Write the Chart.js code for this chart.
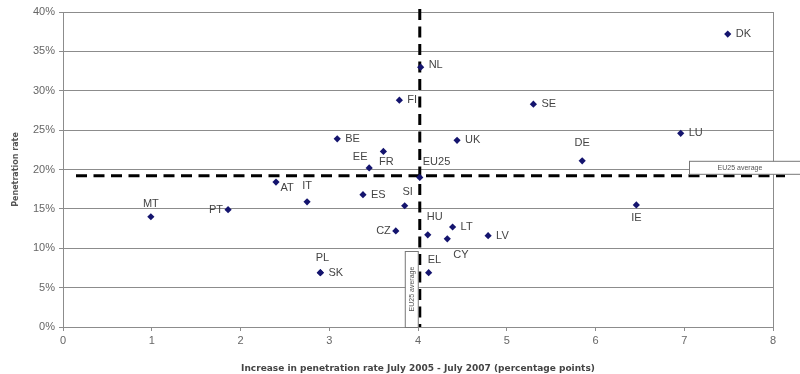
<!DOCTYPE html>
<html>
<head>
<meta charset="utf-8">
<script src="https://cdn.jsdelivr.net/npm/chart.js@4/dist/chart.umd.min.js"></script>
<style>
html,body{margin:0;padding:0;background:#fff;}
#wrap{width:800px;height:374px;position:relative;}
</style>
</head>
<body>
<div id="wrap"><canvas id="c" width="800" height="374"></canvas></div>
<script>
// ---- data ----
const countries = ["DK","NL","FI","SE","BE","UK","LU","DE","FR","EE","EU25","AT","IT","ES","SI","MT","PT","IE","HU","CZ","LT","CY","LV","PL","SK","EL"];
const increasePts = [7.49,4.03,3.79,5.30,3.09,4.44,6.96,5.85,3.61,3.45,4.02,2.40,2.75,3.38,3.85,0.99,1.86,6.46,4.11,3.75,4.39,4.33,4.79,2.90,2.90,4.12];
const penetrationPct = [37.2,33.0,28.8,28.3,23.9,23.7,24.6,21.1,22.3,20.2,19.0,18.4,15.9,16.8,15.4,14.0,14.9,15.5,11.7,12.2,12.7,11.2,11.6,6.9,6.9,6.9];
const avgIncrease = 4.02;
const avgPenetration = 19.2;
const xTicks = [0,1,2,3,4,5,6,7,8];
const yTicks = [0,5,10,15,20,25,30,35,40];
const avgLabel = "EU25 average";
const xTitle = "Increase in penetration rate July 2005 - July 2007 (percentage points)";
const yTitle = "Penetration rate";

// ---- label placement (style) ----
const labelPlace = {
  DK:[8,0,'left'], NL:[8,-2,'left'], FI:[8,0,'left'], SE:[8,0,'left'], BE:[8,0,'left'],
  UK:[8,0,'left'], LU:[8,0,'left'], DE:[0,-18,'center'], FR:[3,11,'center'], EE:[-9,-11,'center'],
  EU25:[3,-15,'left'], AT:[11,6,'center'], IT:[0,-16,'center'], ES:[8,0,'left'], SI:[3,-14,'center'],
  MT:[0,-13,'center'], PT:[-5,0,'right'], IE:[0,13,'center'], HU:[-1,-18,'left'], CZ:[-5,0,'right'],
  LT:[8,0,'left'], CY:[6,16,'left'], LV:[8,0,'left'], PL:[2,-15,'center'], SK:[8,0,'left'], EL:[-1,-13,'left']
};

const points = countries.map((c,i)=>({x:increasePts[i], y:penetrationPct[i]}));
const GRID = '#8c8c8c';
const FONT = '"Liberation Sans", Arial, sans-serif';
const TFONT = '"DejaVu Sans", Verdana, sans-serif';

const overlay = {
  id:'overlay',
  beforeDatasetsDraw(chart){
    const {ctx, scales:{x,y}, chartArea:a} = chart;
    const px = x.getPixelForValue(avgIncrease), py = y.getPixelForValue(avgPenetration);
    ctx.save();
    ctx.strokeStyle = '#000';
    ctx.lineWidth = 3;
    ctx.setLineDash([11,6.5]);
    ctx.beginPath(); ctx.moveTo(a.left+13, py); ctx.lineTo(a.right+12, py); ctx.stroke();
    ctx.beginPath(); ctx.moveTo(px, a.top-3); ctx.lineTo(px, a.bottom); ctx.stroke();
    ctx.setLineDash([]);
    // horizontal avg box
    ctx.fillStyle = '#fff'; ctx.strokeStyle = '#777'; ctx.lineWidth = 1;
    const bx = a.right - 84, by = py - 15;
    ctx.fillRect(bx+0.5, by+0.5, 120, 13); ctx.strokeRect(bx+0.5, by+0.5, 120, 13);
    ctx.fillStyle = '#555'; ctx.font = '7px ' + FONT; ctx.textAlign='center'; ctx.textBaseline='middle';
    ctx.fillText(avgLabel, bx + 51, by + 7);
    // vertical avg box
    const vx = px - 15, vy = a.bottom - 76;
    ctx.fillStyle = '#fff';
    ctx.fillRect(vx+0.5, vy+0.5, 13, 76); ctx.strokeRect(vx+0.5, vy+0.5, 13, 76);
    ctx.save();
    ctx.translate(vx + 7, vy + 38); ctx.rotate(-Math.PI/2);
    ctx.fillStyle = '#555'; ctx.fillText(avgLabel, 0, 0);
    ctx.restore();
    ctx.restore();
  },
  afterDatasetsDraw(chart){
    const {ctx} = chart;
    const meta = chart.getDatasetMeta(0);
    ctx.save();
    ctx.font = '11px ' + FONT; ctx.fillStyle = '#444'; ctx.textBaseline='middle';
    meta.data.forEach((el,i)=>{
      const c = countries[i]; const p = labelPlace[c];
      ctx.textAlign = p[2];
      ctx.fillText(c, el.x + p[0], el.y + p[1]);
    });
    ctx.restore();
  }
};

new Chart(document.getElementById('c'), {
  type:'scatter',
  data:{datasets:[{data:points, pointStyle:'rectRot', radius:3.6, hoverRadius:3.6,
    backgroundColor:'#14146e', borderColor:'#14146e', borderWidth:0}]},
  options:{
    responsive:false, animation:false, events:[],
    layout:{padding:{left:0, right:27, top:12, bottom:0}},
    plugins:{legend:{display:false}, tooltip:{enabled:false}},
    scales:{
      x:{type:'linear', min:0, max:8,
        afterBuildTicks(s){ s.ticks = xTicks.map(v=>({value:v})); },
        afterFit(s){ s.height = 47; },
        grid:{drawOnChartArea:true, color:(c)=> c.tick && c.tick.value===8 ? GRID : 'rgba(0,0,0,0)', tickLength:4, tickColor:GRID},
        border:{display:true, color:GRID},
        ticks:{color:'#666', font:{family:FONT, size:11}, padding:3, maxRotation:0},
        title:{display:true, text:xTitle, color:'#444', font:{family:TFONT, size:9, weight:'bold'}, padding:{top:9,bottom:0}}
      },
      y:{type:'linear', min:0, max:40,
        afterBuildTicks(s){ s.ticks = yTicks.map(v=>({value:v})); },
        afterFit(s){ s.width = 63; },
        grid:{color:GRID, tickLength:4, tickColor:GRID},
        border:{display:true, color:GRID},
        ticks:{color:'#666', font:{family:FONT, size:11}, padding:4, callback:(v)=>v+'%'},
        title:{display:true, text:yTitle, color:'#555', font:{family:TFONT, size:8, weight:'bold'}, padding:{top:11,bottom:0}}
      }
    }
  },
  plugins:[overlay]
});
</script>
</body>
</html>
